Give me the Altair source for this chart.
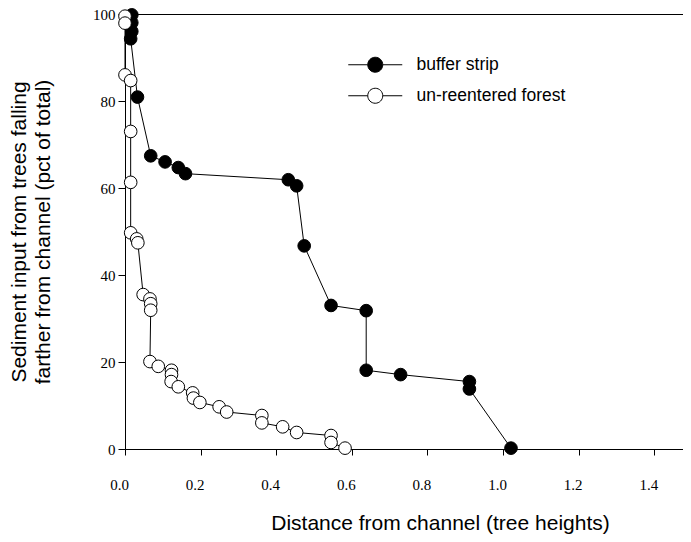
import altair as alt
import pandas as pd

series_names = ["buffer strip", "un-reentered forest"]

buffer_x = [0.018, 0.018, 0.018, 0.015, 0.033, 0.068, 0.106, 0.141, 0.160, 0.432,
            0.454, 0.474, 0.545, 0.638, 0.638, 0.729, 0.911, 0.911, 1.021]
buffer_y = [99.8, 98.0, 96.0, 94.3, 80.9, 67.4, 66.0, 64.7, 63.3, 61.9,
            60.5, 46.7, 33.0, 31.8, 18.1, 17.1, 15.5, 13.8, 0.2]

forest_x = [0.0, 0.0, 0.0, 0.015, 0.015, 0.015, 0.015, 0.031, 0.034, 0.048,
            0.066, 0.068, 0.068, 0.066, 0.088, 0.123, 0.123, 0.122, 0.141, 0.179,
            0.181, 0.198, 0.249, 0.269, 0.362, 0.362, 0.417, 0.454, 0.545, 0.545,
            0.582]
forest_y = [99.5, 97.9, 86.0, 84.7, 73.0, 61.3, 49.7, 48.3, 47.4, 35.5,
            34.5, 33.4, 31.9, 20.1, 19.0, 18.1, 17.1, 15.5, 14.3, 12.9,
            11.7, 10.7, 9.7, 8.5, 7.7, 6.0, 5.1, 3.8, 3.1, 1.5,
            0.2]

x_ticks = [0.0, 0.2, 0.4, 0.6, 0.8, 1.0, 1.2, 1.4]
y_ticks = [0, 20, 40, 60, 80, 100]
x_title = "Distance from channel (tree heights)"
y_title = ["Sediment input from trees falling", "farther from channel (pct of total)"]

rows = []
for i, (x, y) in enumerate(zip(buffer_x, buffer_y)):
    rows.append({"series": series_names[0], "x": x, "y": y, "i": i})
for i, (x, y) in enumerate(zip(forest_x, forest_y)):
    rows.append({"series": series_names[1], "x": x, "y": y, "i": i})
df = pd.DataFrame(rows)
df["k"] = range(len(df))

legend_path = "M-3.6,0L-1,0M1,0L3.6,0M-1,0A1,1 0 1,1 1,0A1,1 0 1,1 -1,0Z"

x_enc = alt.X(
    "x:Q",
    scale=alt.Scale(domain=[0, 1.476], nice=False, zero=False),
    axis=alt.Axis(
        values=x_ticks, format=".1f", title=x_title,
        tickSize=6, labelPadding=22, labelOffset=-6,
        labelFont="Liberation Serif", labelFontSize=15,
        labelFlush=False, labelOverlap=False,
        titleFont="Liberation Sans", titleFontSize=21, titleFontWeight="normal",
        titleX=315, titlePadding=20,
    ),
)
y_enc = alt.Y(
    "y:Q",
    scale=alt.Scale(domain=[0, 100], nice=False),
    axis=alt.Axis(
        values=y_ticks, title=y_title,
        tickSize=7, labelPadding=3,
        labelFont="Liberation Serif", labelFontSize=15,
        labelFlush=False, labelOverlap=False,
        titleFont="Liberation Sans", titleFontSize=21, titleFontWeight="normal",
        titlePadding=39, titleLineHeight=24,
    ),
)

base = alt.Chart(df)

lines = base.mark_line(color="black", strokeWidth=1).encode(
    x=x_enc, y=y_enc, detail="series:N", order="i:Q"
)

points = base.mark_point(
    shape="circle", filled=True, stroke="black", strokeWidth=1, size=160, opacity=1
).encode(
    x="x:Q",
    y="y:Q",
    fill=alt.Fill(
        "series:N",
        scale=alt.Scale(domain=series_names, range=["black", "white"]),
        legend=alt.Legend(
            title=None, orient="none", legendX=241.5, legendY=42,
            symbolType=legend_path, symbolSize=225,
            symbolStrokeColor="black", symbolStrokeWidth=1,
            labelFont="Liberation Sans", labelFontSize=17.5, labelColor="black",
            labelOffset=32.5, rowPadding=11, padding=0,
        ),
    ),
    order="k:Q",
)

chart = (
    alt.layer(lines, points)
    .properties(
        width=558, height=435,
        padding={"left": 117, "top": 6, "right": 0, "bottom": 85},
        autosize=alt.AutoSizeParams(type="none"),
    )
    .configure_view(stroke="black", strokeWidth=1)
    .configure_axis(
        domainColor="black", tickColor="black", labelColor="black",
        titleColor="black", grid=False, domainWidth=1, tickWidth=1,
    )
)

chart.save("out.html", embed_options={"renderer": "svg", "actions": False})
